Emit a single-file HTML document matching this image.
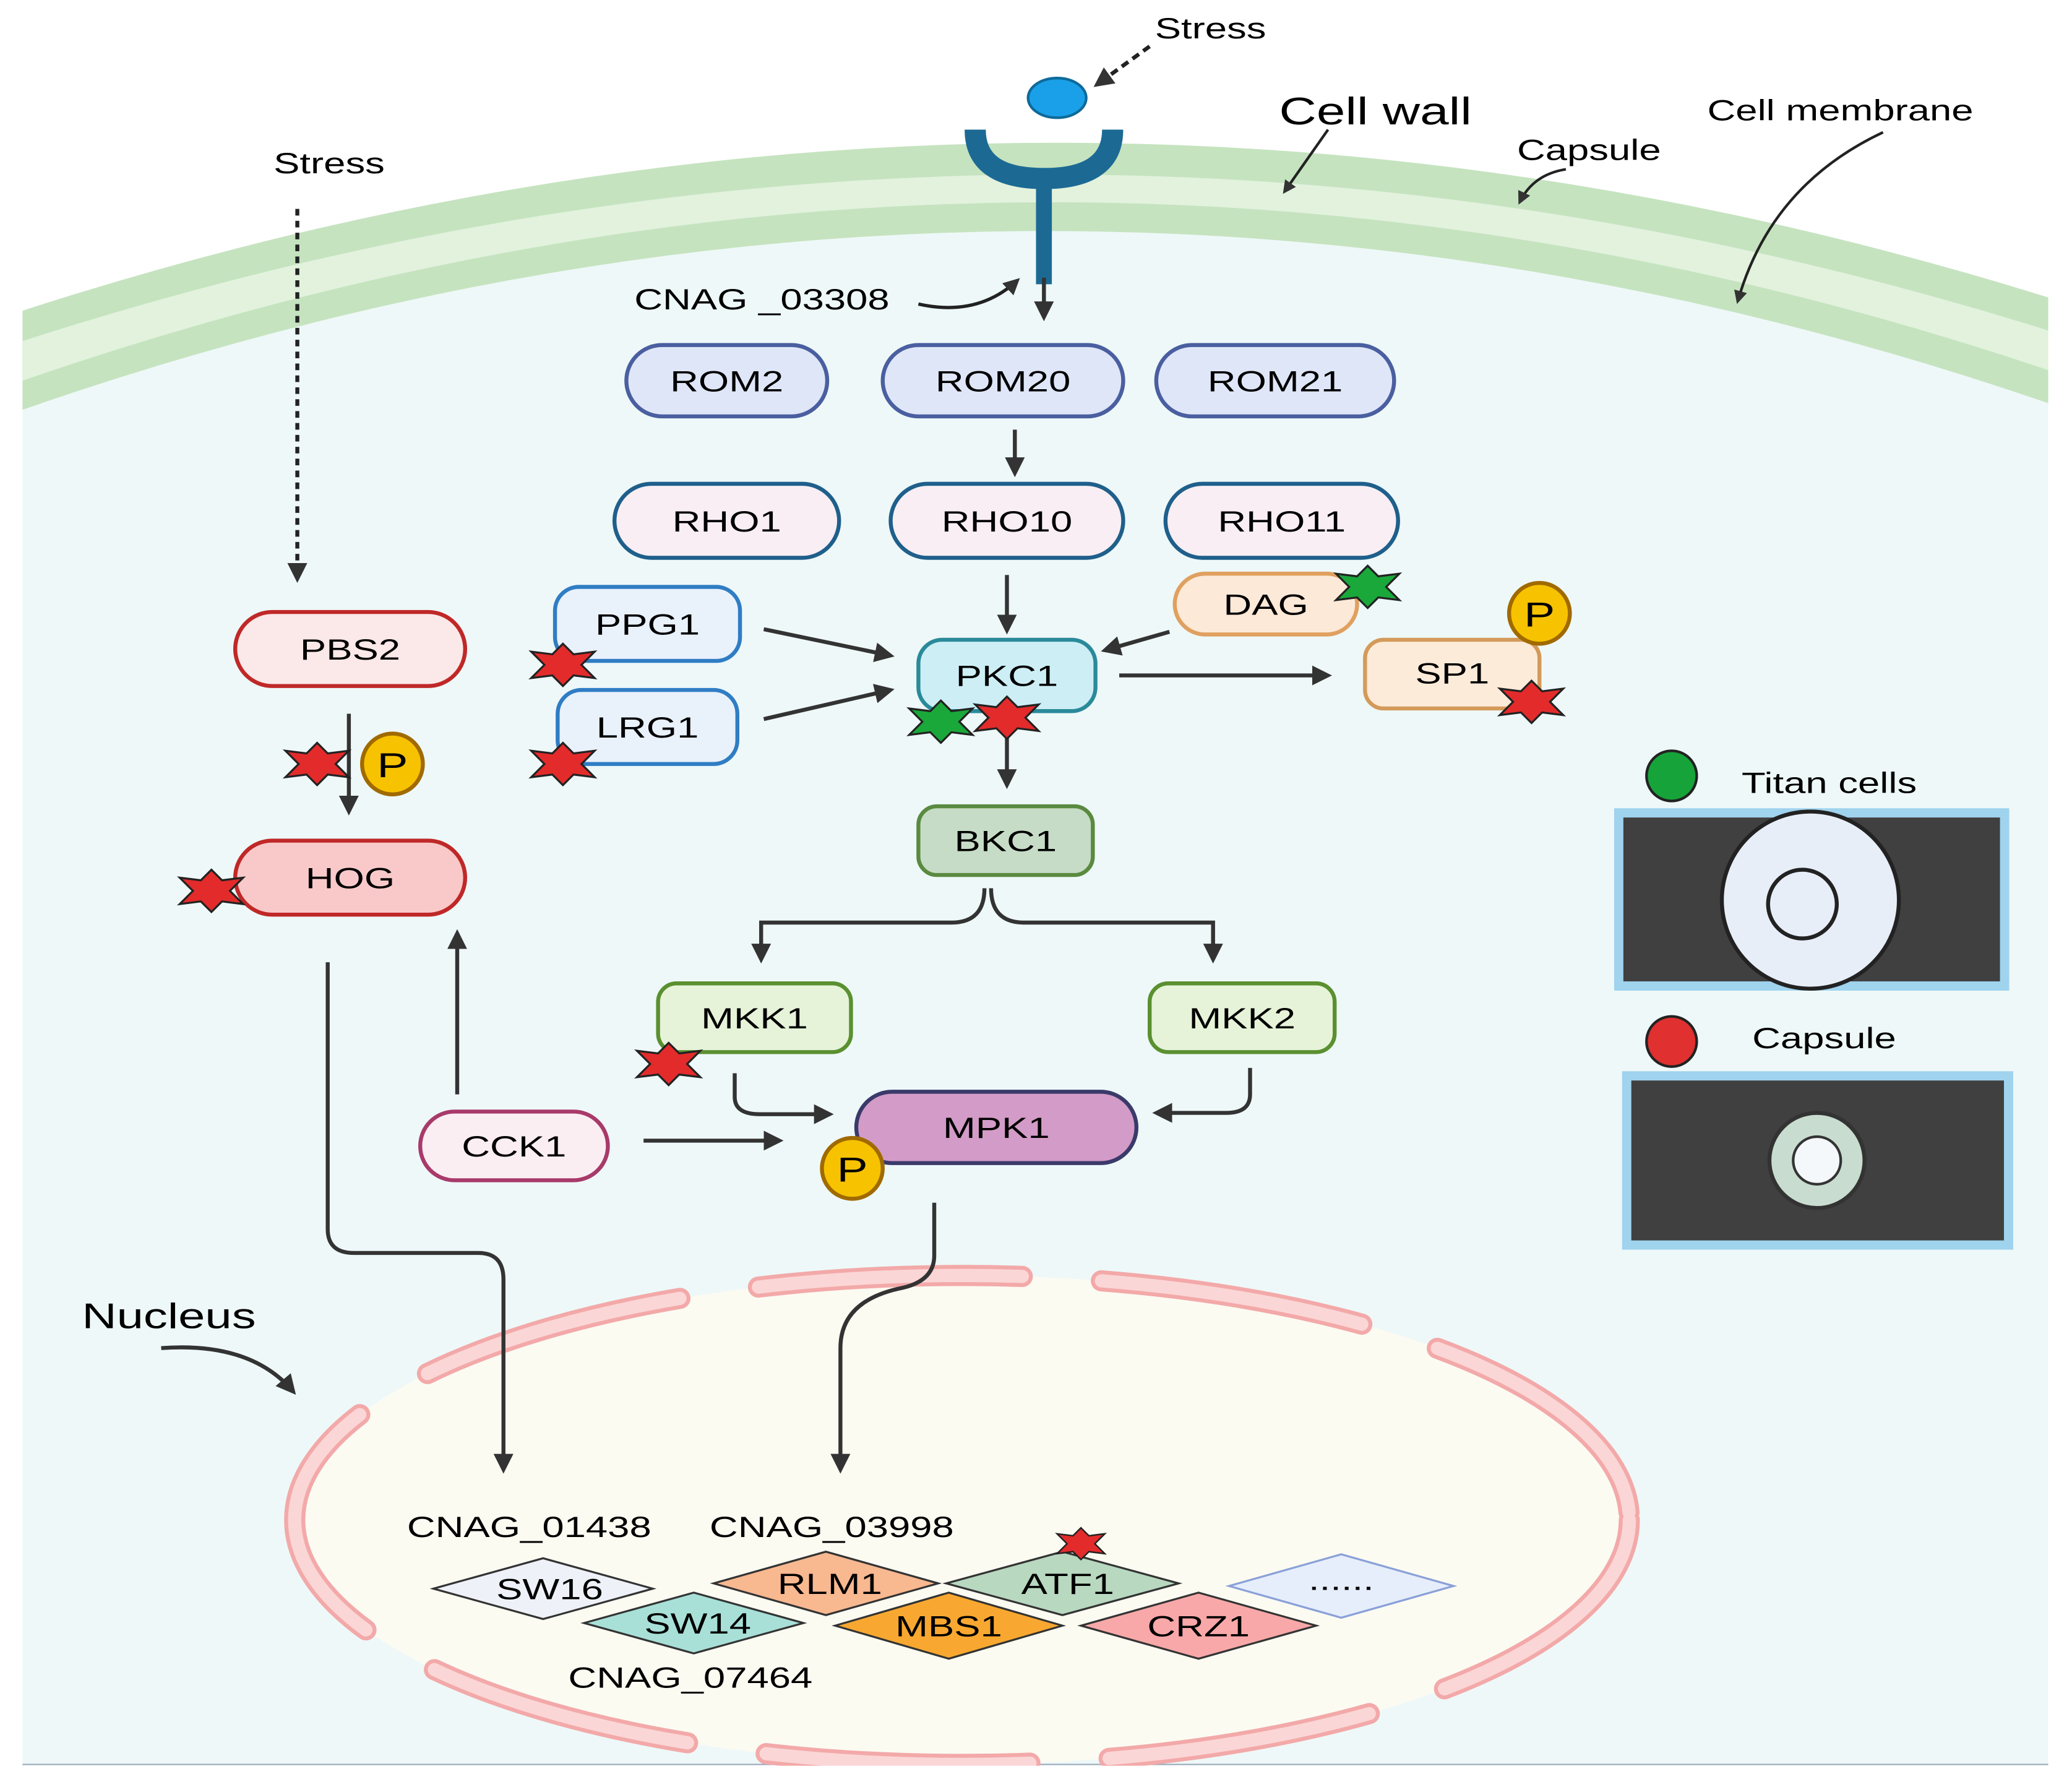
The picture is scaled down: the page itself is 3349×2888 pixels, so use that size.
<!DOCTYPE html>
<html><head><meta charset="utf-8">
<style>
html,body{margin:0;padding:0;background:#fff;}
svg{display:block;}
text{font-family:"Liberation Sans",sans-serif;transform-box:fill-box;transform-origin:left center;transform:scaleX(1.35);}
.m text{transform-origin:center;}
</style></head>
<body>
<svg width="3349" height="2888" viewBox="0 0 1568 1352" xmlns="http://www.w3.org/2000/svg">
<defs>
<marker id="ah" viewBox="0 0 10 10" refX="8" refY="5" markerWidth="5" markerHeight="5" orient="auto-start-reverse">
<path d="M0,0 L10,5 L0,10 z" fill="#333"/></marker>
<g id="star"><polygon points="0,-16 8,-8 24,-10 14,0 24,10 8,8 0,16 -8,8 -24,10 -14,0 -24,-10 -8,-8" stroke="#222" stroke-width="1.5"/></g>
</defs>
<rect width="1568" height="1352" fill="#fff"/>
<path d="M17,310 Q785,42 1550,305 L1550,1335 L17,1335 Z" fill="#eef8f8"/>
<path d="M17,1335 L1550,1335" stroke="#9ab" stroke-width="1"/>
<path d="M17,235 Q785,-14 1550,225 L1550,305 Q785,42 17,310 Z" fill="#c5e3bf"/>
<path d="M17,258 Q785,10 1550,250 L1550,280 Q785,22 17,288 Z" fill="#e2f2dd"/>
<ellipse cx="728" cy="1150" rx="505" ry="185" fill="#fbfbf2"/>
<ellipse cx="728" cy="1150" rx="505" ry="185" fill="none" stroke="#f3a9a9" stroke-width="16" stroke-dasharray="200 60" stroke-linecap="round"/>
<ellipse cx="728" cy="1150" rx="505" ry="185" fill="none" stroke="#fbd6d6" stroke-width="10" stroke-dasharray="200 60" stroke-linecap="round"/>
<rect x="17" y="1336" width="1533" height="16" fill="#fff"/>
<ellipse cx="800" cy="74" rx="22" ry="15" fill="#1aa0e8" stroke="#0d6a9a" stroke-width="2"/>
<path d="M738,98 Q738,135 790,135 Q842,135 842,98" fill="none" stroke="#1c6a94" stroke-width="16"/>
<line x1="790" y1="135" x2="790" y2="215" stroke="#1c6a94" stroke-width="12"/>
<line x1="790" y1="210" x2="790" y2="240" stroke="#333" stroke-width="3" marker-end="url(#ah)"/>
<line x1="870" y1="35" x2="830" y2="64" stroke="#222" stroke-width="3" stroke-dasharray="6 4" marker-end="url(#ah)"/>
<text x="874" y="29" font-size="22">Stress</text>
<text x="968" y="94" font-size="29">Cell wall</text>
<path d="M1005,98 L972,145" stroke="#222" stroke-width="2" marker-end="url(#ah)"/>
<text x="1148" y="121" font-size="22">Capsule</text>
<path d="M1185,128 Q1160,132 1150,153" fill="none" stroke="#222" stroke-width="2" marker-end="url(#ah)"/>
<text x="1292" y="91" font-size="22">Cell membrane</text>
<path d="M1425,100 Q1340,140 1315,228" fill="none" stroke="#222" stroke-width="2" marker-end="url(#ah)"/>
<text x="480" y="234" font-size="22">CNAG _03308</text>
<path d="M695,230 Q740,240 770,212" fill="none" stroke="#222" stroke-width="2.5" marker-end="url(#ah)"/>
<text x="207" y="131" font-size="22">Stress</text>
<line x1="225" y1="158" x2="225" y2="438" stroke="#222" stroke-width="3" stroke-dasharray="5 4" marker-end="url(#ah)"/>
<g font-size="22" text-anchor="middle" class="m">
<rect x="474" y="261" width="152" height="54" rx="27" fill="#dfe6f8" stroke="#4a5fa0" stroke-width="3"/><text x="550" y="296">ROM2</text>
<rect x="668" y="261" width="182" height="54" rx="27" fill="#dfe6f8" stroke="#4a5fa0" stroke-width="3"/><text x="759" y="296">ROM20</text>
<rect x="875" y="261" width="180" height="54" rx="27" fill="#dfe6f8" stroke="#4a5fa0" stroke-width="3"/><text x="965" y="296">ROM21</text>
<rect x="465" y="366" width="170" height="56" rx="28" fill="#f8eef3" stroke="#1f5f8b" stroke-width="3"/><text x="550" y="402">RHO1</text>
<rect x="674" y="366" width="176" height="56" rx="28" fill="#f8eef3" stroke="#1f5f8b" stroke-width="3"/><text x="762" y="402">RHO10</text>
<rect x="882" y="366" width="176" height="56" rx="28" fill="#f8eef3" stroke="#1f5f8b" stroke-width="3"/><text x="970" y="402">RHO11</text>
<rect x="420" y="444" width="140" height="56" rx="18" fill="#e9f1fb" stroke="#2f7dc4" stroke-width="3"/><text x="490" y="480">PPG1</text>
<rect x="422" y="522" width="136" height="56" rx="18" fill="#e9f1fb" stroke="#2f7dc4" stroke-width="3"/><text x="490" y="558">LRG1</text>
<rect x="695" y="484" width="134" height="54" rx="18" fill="#cdeef5" stroke="#2a8a9a" stroke-width="3"/><text x="762" y="519">PKC1</text>
<rect x="889" y="434" width="138" height="46" rx="23" fill="#fde9d7" stroke="#e0a060" stroke-width="3"/><text x="958" y="465">DAG</text>
<rect x="1033" y="484" width="132" height="52" rx="14" fill="#fdebd9" stroke="#d49a5a" stroke-width="3"/><text x="1099" y="517">SP1</text>
<rect x="178" y="463" width="174" height="56" rx="28" fill="#fbe8e8" stroke="#c02828" stroke-width="3"/><text x="265" y="499">PBS2</text>
<rect x="178" y="636" width="174" height="56" rx="28" fill="#f9c9c9" stroke="#c02828" stroke-width="3"/><text x="265" y="672">HOG</text>
<rect x="695" y="610" width="132" height="52" rx="14" fill="#c6dcc6" stroke="#5a8a40" stroke-width="3"/><text x="761" y="644">BKC1</text>
<rect x="498" y="744" width="146" height="52" rx="14" fill="#e6f3d8" stroke="#5a9030" stroke-width="3"/><text x="571" y="778">MKK1</text>
<rect x="870" y="744" width="140" height="52" rx="14" fill="#e6f3d8" stroke="#5a9030" stroke-width="3"/><text x="940" y="778">MKK2</text>
<rect x="648" y="826" width="212" height="54" rx="27" fill="#d39bc8" stroke="#3a3a6a" stroke-width="3"/><text x="754" y="861">MPK1</text>
<rect x="318" y="841" width="142" height="52" rx="26" fill="#fbeef3" stroke="#a83a6a" stroke-width="3"/><text x="389" y="875">CCK1</text>
</g>
<g stroke="#333" stroke-width="3" fill="none" marker-end="url(#ah)">
<line x1="768" y1="325" x2="768" y2="358"/>
<line x1="762" y1="435" x2="762" y2="477"/>
<line x1="578" y1="476" x2="674" y2="496"/>
<line x1="578" y1="544" x2="674" y2="522"/>
<line x1="885" y1="478" x2="836" y2="492"/>
<line x1="847" y1="511" x2="1005" y2="511"/>
<line x1="762" y1="545" x2="762" y2="594"/>
<line x1="264" y1="540" x2="264" y2="614"/>
<path d="M745,672 Q745,698 720,698 L576,698 L576,726"/>
<path d="M750,672 Q750,698 775,698 L918,698 L918,726"/>
<path d="M556,812 L556,830 Q556,843 575,843 L628,843"/>
<path d="M946,808 L946,828 Q946,842 928,842 L875,842"/>
<line x1="487" y1="863" x2="590" y2="863"/>
<line x1="346" y1="828" x2="346" y2="706"/>
<path d="M248,728 L248,930 Q248,948 268,948 L362,948 Q381,948 381,968 L381,1112"/>
<path d="M707,910 L707,950 Q707,970 680,975 Q636,985 636,1020 L636,1112"/>
<path d="M122,1020 Q190,1015 222,1053"/>
</g>
<g font-size="26" text-anchor="middle" class="m">
<circle cx="297" cy="578" r="23" fill="#f7c200" stroke="#a06a00" stroke-width="3"/><text x="297" y="588">P</text>
<circle cx="1165" cy="464" r="23" fill="#f7c200" stroke="#a06a00" stroke-width="3"/><text x="1165" y="474">P</text>
<circle cx="645" cy="884" r="23" fill="#f7c200" stroke="#a06a00" stroke-width="3"/><text x="645" y="894">P</text>
</g>
<g fill="#e32b2b">
<use href="#star" x="426" y="503"/><use href="#star" x="426" y="578"/>
<use href="#star" x="240" y="578"/><use href="#star" x="160" y="674"/>
<use href="#star" x="1159" y="531"/><use href="#star" x="506" y="805"/>
</g>
<use href="#star" x="712" y="546" fill="#1aa83a"/>
<use href="#star" x="762" y="543" fill="#e32b2b"/>
<use href="#star" x="1035" y="444" fill="#1aa83a"/>
<use href="#star" x="818" y="1168" fill="#e32b2b" transform="translate(818 1168) scale(0.75) translate(-818 -1168)"/>
<text x="62" y="1005" font-size="27">Nucleus</text>
<g font-size="22">
<text x="308" y="1163">CNAG_01438</text>
<text x="537" y="1163">CNAG_03998</text>
<text x="430" y="1277">CNAG_07464</text>
</g>
<g stroke="#333" stroke-width="1.5">
<polygon points="328,1202 411,1179 494,1202 411,1225" fill="#eef2f8"/>
<polygon points="442,1228 525,1205 608,1228 525,1251" fill="#a8e0d8"/>
<polygon points="540,1198 625,1174 710,1198 625,1222" fill="#f8b890"/>
<polygon points="632,1230 718,1205 804,1230 718,1255" fill="#f8a830"/>
<polygon points="716,1198 804,1174 892,1198 804,1222" fill="#b8d8c0"/>
<polygon points="818,1230 907,1205 996,1230 907,1255" fill="#f8a8a8"/>
<polygon points="930,1200 1015,1176 1100,1200 1015,1224" fill="#e6eefb" stroke="#8aa0d8"/>
</g>
<use href="#star" x="818" y="1168" fill="#e32b2b" transform="translate(818 1168) scale(0.75) translate(-818 -1168)"/>
<g font-size="22" text-anchor="middle" class="m">
<text x="416" y="1210">SW16</text><text x="528" y="1236">SW14</text>
<text x="628" y="1206">RLM1</text><text x="718" y="1238">MBS1</text>
<text x="808" y="1206">ATF1</text><text x="907" y="1238">CRZ1</text>
<text x="1015" y="1203">......</text>
</g>
<circle cx="1265" cy="587" r="19" fill="#16a33a" stroke="#222" stroke-width="2"/>
<text x="1318" y="600" font-size="22">Titan cells</text>
<rect x="1225" y="615" width="292" height="131" fill="#404040" stroke="#9fd3ee" stroke-width="7"/>
<circle cx="1370" cy="681" r="67" fill="#e8eef8" stroke="#222" stroke-width="3"/>
<circle cx="1364" cy="684" r="26" fill="#e8eef8" stroke="#222" stroke-width="3"/>
<circle cx="1265" cy="788" r="19" fill="#e03030" stroke="#222" stroke-width="2"/>
<text x="1326" y="793" font-size="22">Capsule</text>
<rect x="1231" y="814" width="289" height="128" fill="#404040" stroke="#9fd3ee" stroke-width="7"/>
<circle cx="1375" cy="878" r="36" fill="#c8dccf" stroke="#333" stroke-width="3"/>
<circle cx="1375" cy="878" r="18" fill="#f4f8fb" stroke="#333" stroke-width="2"/>
</svg>
</body></html>
